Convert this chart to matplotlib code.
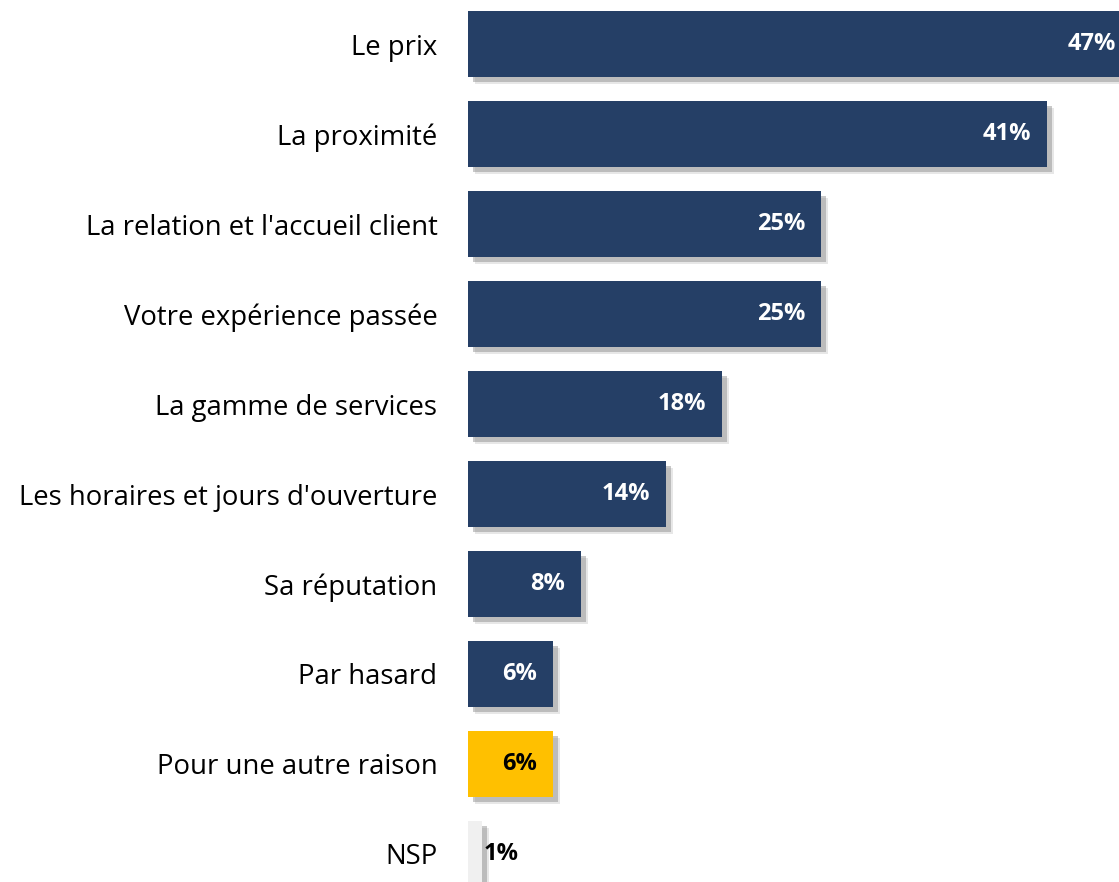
import matplotlib.pyplot as plt
import matplotlib.patheffects as pe

plt.rcParams['font.family'] = ['Open Sans', 'DejaVu Sans']

# Data
categories = ['Le prix', 'La proximité', "La relation et l'accueil client",
              'Votre expérience passée', 'La gamme de services',
              "Les horaires et jours d'ouverture", 'Sa réputation',
              'Par hasard', 'Pour une autre raison', 'NSP']
values = [47, 41, 25, 25, 18, 14, 8, 6, 6, 1]
colors = ['#253F66'] * 8 + ['#FFC000', '#F0F0F0']
text_colors = ['white'] * 8 + ['black', 'black']

fig = plt.figure(figsize=(11.19, 8.82), dpi=100)
ax = fig.add_axes([468 / 1119, 0, 1 - 468 / 1119, 1])

pos = list(range(len(values)))
bars = ax.barh(pos, values, height=0.733, color=colors, zorder=2)
# soft drop shadow
for b in bars:
    b.set_path_effects([
        pe.SimplePatchShadow(offset=(5, -5), shadow_rgbFace='#bbbbbb', alpha=0.35),
        pe.SimplePatchShadow(offset=(3.5, -3.5), shadow_rgbFace='#888888', alpha=0.45),
        pe.Normal()])

px_per_pct = (1047 - 468) / 41
ax.set_xlim(0, (1119 - 468) / px_per_pct)
ax.set_ylim((882 - 44) / 90, -44 / 90)

for i, v in enumerate(values):
    if v >= 2:
        ax.annotate(f'{v}%', (v, i), xytext=(-11.5, 0), textcoords='offset points',
                    ha='right', va='center', fontsize=17, fontweight='bold',
                    color=text_colors[i], annotation_clip=False)
    else:
        ax.annotate(f'{v}%', (v, i), xytext=(1, 0), textcoords='offset points',
                    ha='left', va='center', fontsize=17, fontweight='bold',
                    color=text_colors[i], annotation_clip=False)

ax.set_yticks(pos)
ax.set_yticklabels(categories, fontsize=19.8)
ax.tick_params(axis='y', length=0, pad=22)
ax.set_xticks([])
for s in ax.spines.values():
    s.set_visible(False)

fig.savefig('out.png', dpi=100)
